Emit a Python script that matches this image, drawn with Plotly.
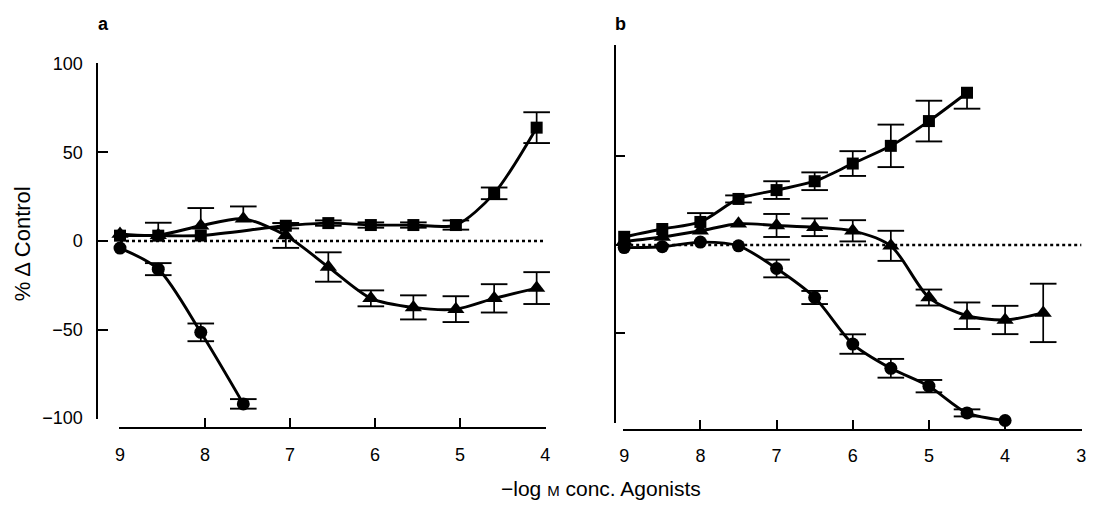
import plotly.graph_objects as go

W, H = 1094, 508

# ---------------- data: panel a ----------------
a_circ_x = [9, 8.55, 8.05, 7.55]
a_circ_y = [-4.0, -15.9, -51.6, -92.0]
a_circ_ep = [0, 3.4, 5.0, 2.7]
a_circ_em = [0, 3.4, 5.0, 2.7]

a_sq_x = [9, 8.55, 8.05, 7.05, 6.55, 6.05, 5.55, 5.05, 4.6, 4.1]
a_sq_y = [3.0, 3.0, 3.1, 8.6, 10.1, 9.0, 9.0, 9.0, 26.9, 64.0]
a_sq_ep = [0, 0, 0, 1.5, 1.5, 1.5, 1.5, 2.6, 3.3, 8.7]
a_sq_em = [0, 0, 0, 1.5, 1.5, 1.5, 1.5, 2.6, 3.3, 8.7]

a_tri_x = [9, 8.55, 8.05, 7.55, 7.05, 6.55, 6.05, 5.55, 5.05, 4.6, 4.1]
a_tri_y = [4.0, 3.3, 8.6, 12.5, 3.1, -14.7, -32.4, -37.5, -38.5, -32.4, -26.6]
a_tri_ep = [0, 7, 10, 7, 7, 8.3, 4.5, 6.8, 7.3, 8, 9]
a_tri_em = [0, 0, 0, 0, 7, 8.3, 4.5, 6.8, 7.3, 8, 9]

a_ticks_x = [9, 8, 7, 6, 5, 4]
a_ticks_y = [-100, -50, 0, 50, 100]
a_zero_x = [9, 4]

# ---------------- data: panel b ----------------
b_conc = [9, 8.5, 8, 7.5, 7, 6.5, 6, 5.5, 5, 4.5, 4, 3.5]
b_sq_y = [4.6, 9, 13, 26, 31, 36, 46, 56, 70, 86]
b_sq_ep = [0, 0, 5, 2, 5, 5, 7, 12, 11.5, 0]
b_sq_em = [0, 0, 0, 2, 5, 5, 7, 12, 11.5, 9]
b_tri_y = [2, 4.5, 8, 12, 11, 10, 8, -0.5, -29.7, -40, -42.4, -38.4]
b_tri_ep = [0, 0, 0, 0, 6.5, 5, 6, 8.5, 4.5, 7.5, 8, 16.5]
b_tri_em = [0, 0, 0, 0, 6.5, 5, 6, 8.5, 4.5, 7.5, 8, 16.5]
b_circ_y = [-1.5, -1, 1.6, -0.5, -13.3, -29.7, -56, -69.7, -79.8, -94.9, -99.2]
b_circ_ep = [0, 0, 0, 0, 5, 3.7, 5.5, 5.3, 3.5, 2, 0]
b_circ_em = [0, 0, 0, 0, 5, 3.7, 5.5, 5.3, 3.5, 2, 0]

b_ticks_x = [9, 8, 7, 6, 5, 4, 3]
b_ticks_y = [-100, -50, 0, 50, 112.5]
b_zero_x = [9, 3]

FONT = "Liberation Sans, Arial, sans-serif"
fig = go.Figure()


def add_series(x, y, ep, em, symbol, size, xa, ya):
    # error bars: vertical segments + caps
    bx, by, cx, cy = [], [], [], []
    for xi, yi, p, m in zip(x, y, ep, em):
        if p > 0 or m > 0:
            bx += [xi, xi, None]
            by += [yi - m, yi + p, None]
        if p > 0:
            cx.append(xi); cy.append(yi + p)
        if m > 0:
            cx.append(xi); cy.append(yi - m)
    fig.add_trace(go.Scatter(x=bx, y=by, mode="lines", xaxis=xa, yaxis=ya,
                             line=dict(color="black", width=1.7),
                             connectgaps=False, showlegend=False, hoverinfo="skip"))
    fig.add_trace(go.Scatter(x=cx, y=cy, mode="markers", xaxis=xa, yaxis=ya,
                             marker=dict(symbol="line-ew", size=19, color="black",
                                         line=dict(color="black", width=1.9)),
                             cliponaxis=False, showlegend=False, hoverinfo="skip"))
    fig.add_trace(go.Scatter(x=x, y=y, mode="lines+markers", xaxis=xa, yaxis=ya,
                             line=dict(color="black", width=2.9, shape="spline", smoothing=0.8),
                             marker=dict(symbol=symbol, size=size, color="black",
                                         line=dict(width=0)),
                             cliponaxis=False, showlegend=False))


# zero reference lines
fig.add_trace(go.Scatter(x=a_zero_x, y=[0, 0], mode="lines", xaxis="x", yaxis="y",
                         line=dict(color="black", width=2.5, dash="3px,3px"),
                         showlegend=False, hoverinfo="skip"))
fig.add_trace(go.Scatter(x=b_zero_x, y=[0, 0], mode="lines", xaxis="x2", yaxis="y2",
                         line=dict(color="black", width=2.5, dash="3px,3px"),
                         showlegend=False, hoverinfo="skip"))

add_series(a_sq_x, a_sq_y, a_sq_ep, a_sq_em, "square", 12, "x", "y")
add_series(a_tri_x, a_tri_y, a_tri_ep, a_tri_em, "triangle-up", 15, "x", "y")
add_series(a_circ_x, a_circ_y, a_circ_ep, a_circ_em, "circle", 13, "x", "y")

add_series(b_conc[:len(b_sq_y)], b_sq_y, b_sq_ep, b_sq_em, "square", 12, "x2", "y2")
add_series(b_conc[:len(b_tri_y)], b_tri_y, b_tri_ep, b_tri_em, "triangle-up", 15, "x2", "y2")
add_series(b_conc[:len(b_circ_y)], b_circ_y, b_circ_ep, b_circ_em, "circle", 13, "x2", "y2")

axis_common = dict(showgrid=False, zeroline=False, showline=True, linecolor="black",
                   linewidth=2, ticks="inside", tickwidth=2, tickcolor="black",
                   tickfont=dict(family=FONT, size=18, color="black"))

fig.update_layout(
    width=W, height=H, autosize=False,
    margin=dict(l=0, r=0, t=0, b=0),
    paper_bgcolor="white", plot_bgcolor="white",
    showlegend=False,
    font=dict(family=FONT, color="black"),
    xaxis=dict(domain=[116 / W, 546 / W], range=[9.01, 3.99], anchor="free",
               position=1 - 434 / H, tickvals=a_ticks_x, ticklen=9,
               ticklabelstandoff=11, **axis_common),
    yaxis=dict(domain=[1 - 425 / H, 1 - 56 / H], range=[-100.5, 100.5], anchor="free",
               position=94 / W, tickvals=a_ticks_y, ticklen=10,
               ticklabelstandoff=10, **axis_common),
    xaxis2=dict(domain=[624 / W, 1086 / W], range=[9.01, 2.99], anchor="free",
                position=1 - 436 / H, tickvals=b_ticks_x, ticklen=9,
                ticklabelstandoff=10, **axis_common),
    yaxis2=dict(domain=[1 - 429 / H, 1 - 37.3 / H], range=[-100.5, 113], anchor="free",
                position=616 / W, tickvals=b_ticks_y, ticklen=9,
                showticklabels=False, **axis_common),
    annotations=[
        dict(text="<b>a</b>", x=100 / W, y=1 - 16 / H, xref="paper", yref="paper",
             xanchor="center", yanchor="middle",
             showarrow=False, font=dict(family=FONT, size=18, color="black")),
        dict(text="<b>b</b>", x=621 / W, y=1 - 16 / H, xref="paper", yref="paper",
             xanchor="center", yanchor="middle",
             showarrow=False, font=dict(family=FONT, size=18, color="black")),
        dict(text="% Δ Control", x=19 / W, y=1 - 243 / H, xref="paper", yref="paper",
             xanchor="center", yanchor="middle",
             textangle=-90, showarrow=False,
             font=dict(family=FONT, size=22, color="black")),
        dict(text="\u2212log <span style='font-size:15px'>M</span> conc. Agonists",
             x=601 / W, y=1 - 497 / H, xref="paper", yref="paper",
             xanchor="center", yanchor="middle",
             showarrow=False, font=dict(family=FONT, size=21, color="black")),
    ],
)

fig.write_html("out.html")
